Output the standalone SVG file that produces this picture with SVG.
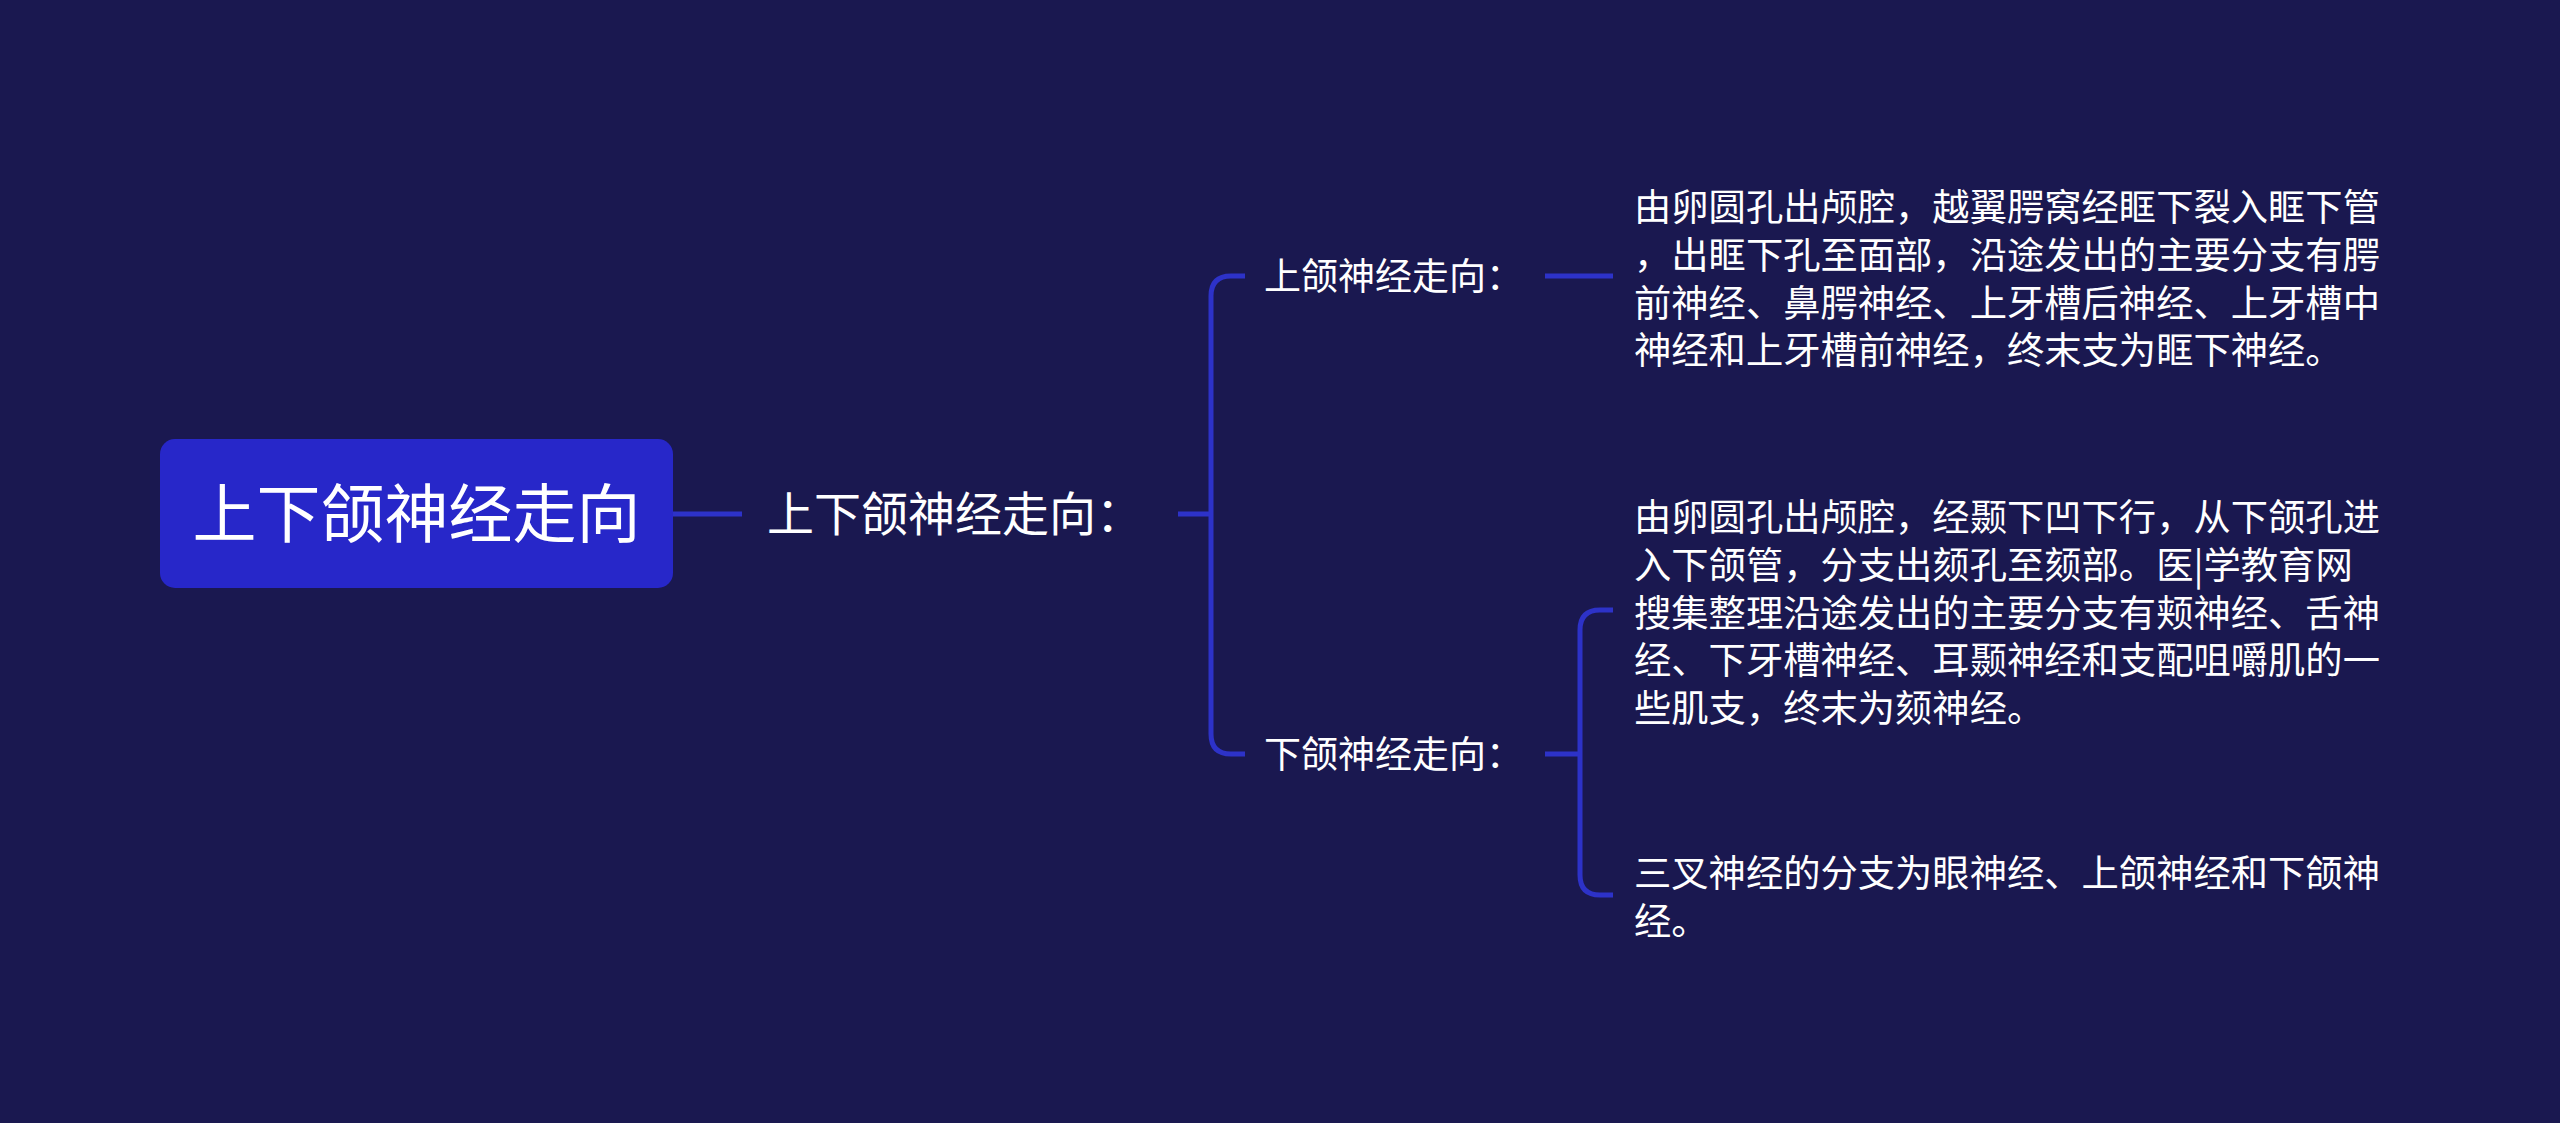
<svg xmlns="http://www.w3.org/2000/svg" width="2560" height="1123" viewBox="0 0 2560 1123">
<style>
text{font-family:"Noto Sans CJK SC","Noto Sans",sans-serif;fill:#ffffff}
.root{font-size:64px}
.l1{font-size:47px}
.l2{font-size:37px}
.leaf{font-size:37.3px}
.conn{fill:none;stroke:#2d32c8;stroke-width:5;stroke-linecap:butt}
</style>
<rect x="0" y="0" width="2560" height="1123" fill="#1a1850"/>
<g id="connectors">
<path class="conn" d="M673 514 H742"/>
<path class="conn" d="M1178 514 H1211"/>
<path class="conn" d="M1245 276 H1231 Q1211 276 1211 296 V734 Q1211 754 1231 754 H1245"/>
<path class="conn" d="M1545 276 H1613"/>
<path class="conn" d="M1545 754 H1580"/>
<path class="conn" d="M1613 610 H1600 Q1580 610 1580 630 V875 Q1580 895 1600 895 H1613"/>
</g>
<g id="root">
<rect x="160" y="439" width="513" height="149" rx="15" ry="15" fill="#2727c9"/>
<text class="root" x="416.5" y="537" text-anchor="middle">上下颌神经走向</text>
</g>
<g id="n1">
<text class="l1" x="767" y="531">上下颌神经走向：</text>
</g>
<g id="n2">
<text class="l2" x="1264" y="290">上颌神经走向：</text>
</g>
<g id="n3">
<text class="l2" x="1264" y="768">下颌神经走向：</text>
</g>
<g id="n4">
<text class="leaf"><tspan x="1634" y="221">由卵圆孔出颅腔，越翼腭窝经眶下裂入眶下管</tspan><tspan x="1634" y="269">，出眶下孔至面部，沿途发出的主要分支有腭</tspan><tspan x="1634" y="317">前神经、鼻腭神经、上牙槽后神经、上牙槽中</tspan><tspan x="1634" y="364">神经和上牙槽前神经，终末支为眶下神经。</tspan></text>
</g>
<g id="n5">
<text class="leaf"><tspan x="1634" y="531">由卵圆孔出颅腔，经颞下凹下行，从下颌孔进</tspan><tspan x="1634" y="579">入下颌管，分支出颏孔至颏部。医|学教育网</tspan><tspan x="1634" y="627">搜集整理沿途发出的主要分支有颊神经、舌神</tspan><tspan x="1634" y="674">经、下牙槽神经、耳颞神经和支配咀嚼肌的一</tspan><tspan x="1634" y="722">些肌支，终末为颏神经。</tspan></text>
</g>
<g id="n6">
<text class="leaf"><tspan x="1634" y="887">三叉神经的分支为眼神经、上颌神经和下颌神</tspan><tspan x="1634" y="935">经。</tspan></text>
</g>
</svg>
